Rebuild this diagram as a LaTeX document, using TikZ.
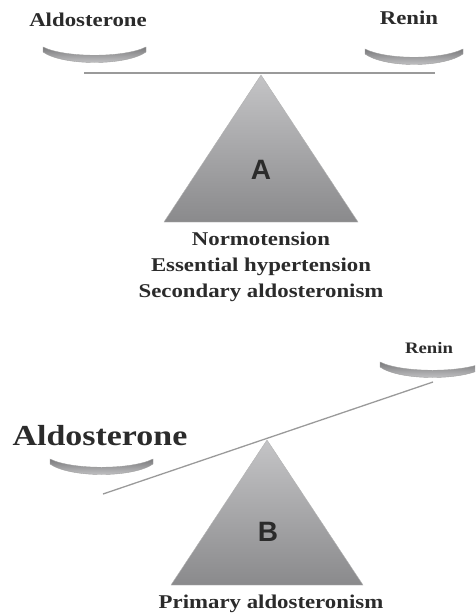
\documentclass[tikz,border=0pt]{standalone}
\usepackage{fontspec}
\setmainfont[FakeStretch=1.17]{Liberation Serif}
\newfontfamily\letterfont{Liberation Sans}
\definecolor{txt}{HTML}{2B2B2B}
\definecolor{beamc}{HTML}{9A9A9A}
\definecolor{tritop}{HTML}{C4C4C6}
\definecolor{tribot}{HTML}{8A8A8C}
\definecolor{pantop}{HTML}{7A7A7C}
\definecolor{panbot}{HTML}{D0D0D2}
\tikzset{
  lbl/.style={font=\bfseries, text=txt, inner sep=0pt, align=center},
  beam/.style={draw=beamc, line width=1.6pt},
  fulcrum/.style={top color=tritop, bottom color=tribot, draw=gray!60, line width=0.4pt},
  panstyle/.style={top color=pantop, bottom color=panbot, draw=gray!75, line width=0.4pt},
  letter/.style={font=\letterfont\bfseries\fontsize{28}{30}\selectfont, text=txt, inner sep=0pt}
}
\newcommand\mypan[3]{% left x, right x, top y
  \path[panstyle] (#1,#3) .. controls ({#1+22},{#3+11}) and ({#2-22},{#3+11}) .. (#2,#3)
     -- (#2,{#3+5}) .. controls ({#2-20},{#3+19}) and ({#1+20},{#3+19}) .. (#1,{#3+5}) -- cycle;}
\begin{document}
\begin{tikzpicture}[x=1pt,y=-1pt]
\useasboundingbox (0,0) rectangle (475,616);
\clip (0,0) rectangle (475,616);
% ---------- Panel A ----------
\node[lbl, font=\bfseries\fontsize{19.5}{22}\selectfont] (aldoA) at (88,20) {Aldosterone};
\node[lbl, font=\bfseries\fontsize{19.5}{22}\selectfont] (reninA) at (409,18) {Renin};
\mypan{43}{146}{47}
\mypan{365}{463}{49}
\coordinate (beamAl) at (84,73);
\coordinate (beamAr) at (435,73);
\draw[beam] (beamAl) -- (beamAr);
\path[fulcrum] (261,75) coordinate (apexA) -- (164,222) -- (358,222) -- cycle;
\node[letter] (A) at (261,170) {A};
\node[lbl, font=\bfseries\fontsize{19.5}{26}\selectfont] (condA) at (261,267)
  {Normotension\\Essential hypertension\\Secondary aldosteronism};
% ---------- Panel B ----------
\node[lbl, font=\bfseries\fontsize{16}{18}\selectfont] (reninB) at (429,348) {Renin};
\mypan{380}{485}{362}
\node[lbl, font=\bfseries\fontsize{29}{32}\selectfont] (aldoB) at (100,436) {Aldosterone};
\mypan{50}{153}{459}
\coordinate (beamBl) at (103,494);
\coordinate (beamBr) at (433,382);
\draw[beam, line width=1.3pt] (beamBl) -- (beamBr);
\path[fulcrum] (267,440) coordinate (apexB) -- (171,585) -- (363,585) -- cycle;
\node[letter] (B) at (268,532) {B};
\node[lbl, font=\bfseries\fontsize{19.5}{22}\selectfont] (condB) at (271,604) {Primary aldosteronism};
\end{tikzpicture}
\end{document}
